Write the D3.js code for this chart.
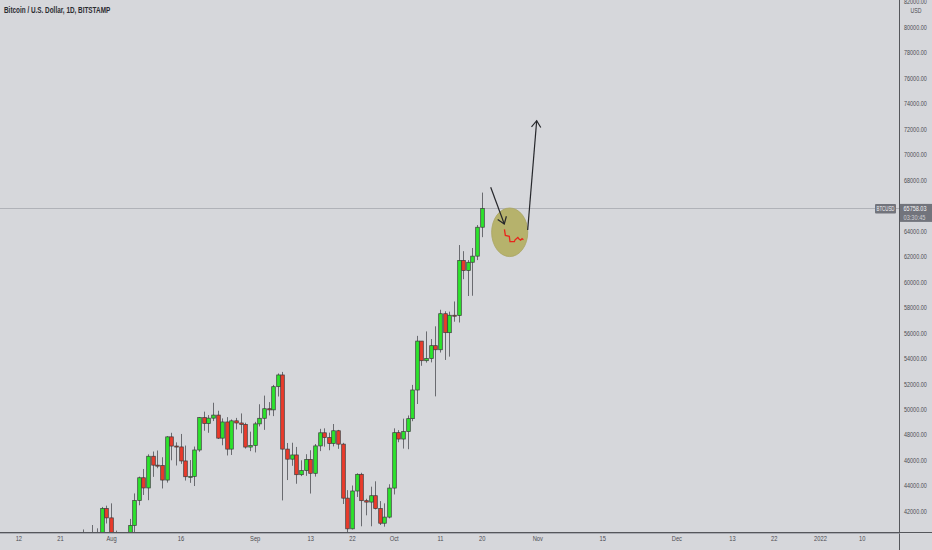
<!DOCTYPE html>
<html><head><meta charset="utf-8">
<script src="https://cdn.jsdelivr.net/npm/d3@7"></script>
<style>
html,body{margin:0;padding:0;background:#d6d7db;}
svg{display:block;}
</style></head>
<body>
<svg id="c" width="932" height="550"></svg>
<script>
// ---- data ----
const dates = ["2021-07-26","2021-07-27","2021-07-28","2021-07-29","2021-07-30","2021-07-31",
"2021-08-01","2021-08-02","2021-08-03","2021-08-04","2021-08-05","2021-08-06","2021-08-07","2021-08-08","2021-08-09","2021-08-10",
"2021-08-11","2021-08-12","2021-08-13","2021-08-14","2021-08-15","2021-08-16","2021-08-17","2021-08-18","2021-08-19","2021-08-20",
"2021-08-21","2021-08-22","2021-08-23","2021-08-24","2021-08-25","2021-08-26","2021-08-27","2021-08-28","2021-08-29","2021-08-30","2021-08-31",
"2021-09-01","2021-09-02","2021-09-03","2021-09-04","2021-09-05","2021-09-06","2021-09-07","2021-09-08","2021-09-09","2021-09-10",
"2021-09-11","2021-09-12","2021-09-13","2021-09-14","2021-09-15","2021-09-16","2021-09-17","2021-09-18","2021-09-19","2021-09-20",
"2021-09-21","2021-09-22","2021-09-23","2021-09-24","2021-09-25","2021-09-26","2021-09-27","2021-09-28","2021-09-29","2021-09-30",
"2021-10-01","2021-10-02","2021-10-03","2021-10-04","2021-10-05","2021-10-06","2021-10-07","2021-10-08","2021-10-09","2021-10-10",
"2021-10-11","2021-10-12","2021-10-13","2021-10-14","2021-10-15","2021-10-16","2021-10-17","2021-10-18","2021-10-19","2021-10-20"];
const open = [35390,37270,39460,40000,40020,42200,
41460,39860,39150,38200,39720,40870,42830,44610,43810,46300,
45600,45570,44430,47820,47100,47030,45930,44690,44720,46790,
49330,48870,49290,49530,47720,48990,46860,49080,48910,48800,47020,
47150,48840,49280,50030,49940,51760,52680,46860,46070,46400,
44850,45170,46050,44960,47110,48140,47760,47300,48300,47250,
43010,40600,43570,44880,42810,42700,43200,42190,41040,41520,
43800,48150,47650,48230,49250,51500,55340,53800,53970,54980,
54660,57490,56000,57370,57350,61670,60880,61530,62010,64280];
const high = [40550,39540,40900,40640,42320,42420,
42600,40460,39780,39960,41380,43380,44700,45300,46450,46670,
46750,46220,47880,48140,47390,48050,47140,46000,47060,49370,
49800,49530,50500,49870,49270,49370,49190,49310,49660,48930,48230,
49000,50380,51060,50550,51900,52800,52920,47340,47360,47030,
45980,46460,46770,47260,48450,48490,48150,48830,48370,47350,
43640,44000,44960,45000,42960,43910,44330,42780,42600,44100,
48490,48350,49250,49500,51900,55750,55340,56100,55500,56500,
57800,57680,57650,58450,62880,62400,61700,62650,64450,67000];
const low = [35250,36420,38790,39200,38330,41020,
39420,38700,37650,37510,37330,39850,42450,43260,42850,44680,
45360,43770,44230,45980,45570,45700,44390,44210,43960,46650,
48300,48140,49060,47650,47160,46360,46400,48400,48100,46900,46700,
46600,48640,48370,49500,49450,50990,42830,44430,45550,44140,
44740,44760,43370,44700,46700,47050,46770,47070,46880,42550,
39590,40550,43100,40800,41660,40800,42120,40900,40770,41420,
43300,47400,46900,46850,49050,50400,53400,53650,53670,51000,
54440,53860,54120,56860,56800,60200,58880,58900,61700,63500];
const close = [37270,39460,40000,40020,42200,41460,
39860,39150,38200,39720,40870,42830,44610,43810,46300,45600,
45570,44430,47820,47100,47030,45930,44690,44720,46790,49330,
48870,49290,49530,47720,48990,46860,49080,48910,48800,47020,47150,
48840,49280,50030,49940,51760,52680,46860,46070,46400,44850,
45170,46050,44960,47110,48140,47760,47300,48300,47250,43010,
40600,43570,44880,42810,42700,43200,42190,41040,41520,43800,
48150,47650,48230,49250,51500,55340,53800,53970,54980,54660,
57490,56000,57370,57350,61670,60880,61530,62010,64280,65758.03];

const xTickDates = ["2021-07-12","2021-07-21","2021-08-01","2021-08-16","2021-09-01","2021-09-13","2021-09-22","2021-10-01",
"2021-10-11","2021-10-20","2021-11-01","2021-11-15","2021-12-01","2021-12-13","2021-12-22","2022-01-01","2022-01-10"];
const xTickLabels = ["12","21","Aug","16","Sep","13","22","Oct","11","20","Nov","15","Dec","13","22","2022","10"];
// 66000 is hidden behind the last-price label in the reference
const yTicks = [42000,44000,46000,48000,50000,52000,54000,56000,58000,60000,62000,64000,68000,70000,72000,74000,76000,78000,80000,82000];

const title = "Bitcoin / U.S. Dollar, 1D, BITSTAMP";
const lastPrice = 65758.03;
const countdown = "03:30:45";
const symbol = "BTCUSD";

// annotations in (days after 2021-08-01, price)
const arrowDown = [[81.94,67415],[84.87,64533]];
const arrowUp = [[89.92,64062],[91.86,72644]];
const ellipseC = [86.04,63882]; const ellipseR = [3.9,1908];
const squiggle = [[84.9,64117],[85.1,63640],[85.95,63560],[86.1,63150],[87.05,63150],[87.2,63290],[87.8,63480],[88.05,63350],[88.4,63270],[88.7,63380],[89.0,63300]];

// ---- scales ----
const W = 932, H = 550, plotR = 899.5, plotB = 532;
const parse = d3.utcParse("%Y-%m-%d");
const x = d3.scaleUtc().domain([new Date(Date.UTC(2021,7,1)), new Date(Date.UTC(2022,0,1))]).range([111, 820]);
const y = d3.scaleLinear().domain([42000, 80000]).range([511, 27]);
const base = Date.UTC(2021,7,1);
const ax = d => x(new Date(base + d*864e5));

const svg = d3.select("#c");
svg.append("rect").attr("width",W).attr("height",H).attr("fill","#d6d7db");

const defs = svg.append("defs");
defs.append("clipPath").attr("id","clip").append("rect").attr("x",0).attr("y",0).attr("width",plotR).attr("height",plotB);

// last price line
svg.append("line").attr("x1",0).attr("x2",plotR).attr("y1",Math.round(y(lastPrice))+0.5).attr("y2",Math.round(y(lastPrice))+0.5)
  .attr("stroke","#b0b2b8").attr("stroke-width",1);

const g = svg.append("g").attr("clip-path","url(#clip)");
const candles = dates.map((d,i)=>({date:parse(d),o:open[i],h:high[i],l:low[i],c:close[i]}));
const bw = 3.6;
g.selectAll("line.wick").data(candles).join("line").attr("class","wick")
  .attr("x1",d=>Math.round(x(d.date))+0.5).attr("x2",d=>Math.round(x(d.date))+0.5)
  .attr("y1",d=>y(d.h)).attr("y2",d=>y(d.l)).attr("stroke","#6a6b70").attr("stroke-width",1);
g.selectAll("rect.body").data(candles).join("rect").attr("class","body")
  .attr("x",d=>Math.round(x(d.date))+0.5-bw/2).attr("width",bw)
  .attr("y",d=>y(Math.max(d.o,d.c))).attr("height",d=>Math.max(1,Math.abs(y(d.o)-y(d.c))))
  .attr("fill",d=>d.c>=d.o?"#2de32d":"#e93b2c").attr("stroke","#3b3b3b").attr("stroke-width",0.7);

// annotations
svg.append("ellipse").attr("cx",ax(ellipseC[0])).attr("cy",y(ellipseC[1]))
  .attr("rx",ax(ellipseC[0]+ellipseR[0])-ax(ellipseC[0])).attr("ry",y(ellipseC[1]-ellipseR[1])-y(ellipseC[1]))
  .attr("fill","#b6b26c").attr("stroke","#a9a562").attr("stroke-width",0.8);
svg.append("path").attr("d",d3.line().x(d=>ax(d[0])).y(d=>y(d[1]))(squiggle))
  .attr("fill","none").attr("stroke","#e8261c").attr("stroke-width",1.3);

function arrow(pts){
  const x1=ax(pts[0][0]), y1=y(pts[0][1]), x2=ax(pts[1][0]), y2=y(pts[1][1]);
  svg.append("line").attr("x1",x1).attr("y1",y1).attr("x2",x2).attr("y2",y2).attr("stroke","#26272b").attr("stroke-width",1.2);
  const a = Math.atan2(y2-y1,x2-x1), L=8, sp=0.62;
  const p = [[x2-L*Math.cos(a-sp), y2-L*Math.sin(a-sp)],[x2,y2],[x2-L*Math.cos(a+sp), y2-L*Math.sin(a+sp)]];
  svg.append("path").attr("d",d3.line()(p)).attr("fill","none").attr("stroke","#26272b").attr("stroke-width",1.2);
}
arrow(arrowDown); arrow(arrowUp);

// axes lines
svg.append("line").attr("x1",plotR).attr("x2",plotR).attr("y1",0).attr("y2",H).attr("stroke","#55565b").attr("stroke-width",1);
svg.append("line").attr("x1",0).attr("x2",W).attr("y1",plotB+0.5).attr("y2",plotB+0.5).attr("stroke","#55565b").attr("stroke-width",1);
svg.append("line").attr("x1",0).attr("x2",plotR).attr("y1",plotB+1.5).attr("y2",plotB+1.5).attr("stroke","#a9abb2").attr("stroke-width",1);

const font = "'Liberation Sans',Arial,sans-serif";

// text squeezed horizontally to a target width (narrow TradingView-like font)
function fitted(parent, tx, ty, str, size, targetW, fill, weight){
  const gg = parent.append("g");
  const t = gg.append("text").attr("x",0).attr("y",0).attr("font-family",font).attr("font-size",size)
    .attr("fill",fill).attr("font-weight",weight||"normal").text(str);
  const w = t.node().getComputedTextLength();
  gg.attr("transform",`translate(${tx},${ty}) scale(${targetW/w},1)`);
  return gg;
}

// y axis
const yAxis = d3.axisRight(y).tickValues(yTicks).tickSize(0).tickPadding(0).tickFormat(d=>d3.format(".2f")(d));
const ya = svg.append("g").attr("transform",`translate(${plotR+4.5},0)`).call(yAxis);
ya.select(".domain").remove();
ya.selectAll("text").attr("font-family",font).attr("font-size",7.4).attr("fill","#4c4d52")
  .attr("transform","scale(0.74,1)");
fitted(svg, 910.5, 12.5, "USD", 7, 11, "#4c4d52");

// x axis
const xAxis = d3.axisBottom(x).tickValues(xTickDates.map(parse)).tickSize(0).tickPadding(0).tickFormat((d,i)=>xTickLabels[i]);
const xa = svg.append("g").attr("transform",`translate(0,${plotB+4})`).call(xAxis);
xa.select(".domain").remove();
xa.selectAll("text").attr("font-family",font).attr("font-size",7.2).attr("fill","#4c4d52").attr("transform","scale(0.8,1)")
  .attr("x",function(){ return 0; });
// scale around each tick's own origin: ticks are positioned by group transforms, text at x=0

// price labels
const py = y(lastPrice);
svg.append("rect").attr("x",875).attr("y",py-4.5).attr("width",21).attr("height",9.5).attr("fill","#72747c").attr("rx",1);
fitted(svg, 876.5, py+2.8, symbol, 7, 18, "#f2f2f4");
svg.append("rect").attr("x",plotR+0.5).attr("y",py-4.5).attr("width",W-plotR).attr("height",18).attr("fill","#72747c");
fitted(svg, 903.5, py+2.8, d3.format(".2f")(lastPrice), 7.4, 23, "#f4f4f6");
fitted(svg, 903.5, py+11.5, countdown, 7.2, 22, "#cfd0d4");

// title
fitted(svg, 4, 13, title, 8.4, 106, "#2b2c30", "bold");
</script>
</body></html>
